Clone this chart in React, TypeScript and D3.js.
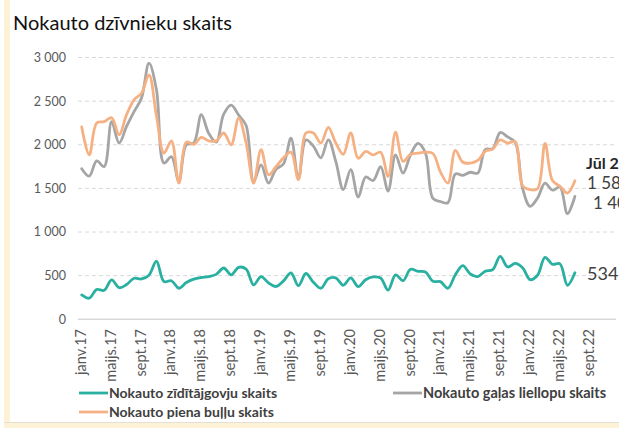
import React from "react";
import * as d3 from "d3";

const tickLabels = ["janv.17", "maijs.17", "sept.17", "janv.18", "maijs.18", "sept.18", "janv.19", "maijs.19", "sept.19", "janv.20", "maijs.20", "sept.20", "janv.21", "maijs.21", "sept.21", "janv.22", "maijs.22", "sept.22"];
const yTicks = [0, 500, 1000, 1500, 2000, 2500, 3000];

// monthly values, Jan 2017 .. Jul 2022
const zidītājgovis = [280, 242, 342, 332, 452, 362, 398, 470, 462, 505, 665, 433, 442, 356, 421, 460, 479, 490, 515, 588, 510, 596, 575, 395, 490, 418, 376, 440, 533, 385, 525, 425, 356, 465, 475, 390, 475, 375, 454, 485, 473, 335, 510, 442, 573, 550, 542, 435, 432, 356, 511, 614, 519, 490, 550, 569, 721, 600, 640, 590, 454, 505, 710, 630, 636, 390, 534];
const galasLiellopi = [1725, 1640, 1815, 1750, 2265, 2020, 2210, 2380, 2535, 2935, 2630, 1790, 1865, 1580, 2000, 2020, 2345, 2130, 2030, 2350, 2455, 2340, 2220, 1580, 1770, 1560, 1720, 1780, 2075, 1615, 2055, 1985, 1850, 2055, 1810, 1485, 1715, 1400, 1630, 1590, 1750, 1470, 1885, 1675, 1885, 2015, 1905, 1385, 1350, 1335, 1665, 1650, 1685, 1675, 1945, 1955, 2140, 2090, 2030, 1500, 1295, 1390, 1560, 1480, 1515, 1210, 1409];
const pienaBulli = [2205, 1885, 2250, 2265, 2310, 2115, 2345, 2515, 2590, 2800, 2330, 1905, 2045, 1560, 2030, 2005, 2085, 2045, 2045, 2135, 2000, 2305, 2020, 1560, 1945, 1655, 1750, 1850, 1915, 1600, 2135, 2135, 2020, 2200, 2020, 1890, 2135, 1845, 1925, 1885, 1915, 1637, 2145, 1810, 1890, 1905, 1915, 1900, 1690, 1560, 1935, 1800, 1790, 1820, 1925, 1950, 2055, 2020, 2035, 1530, 1485, 1496, 2015, 1590, 1525, 1447, 1588];

const seriesNames = ["Nokauto zīdītājgovju skaits", "Nokauto gaļas liellopu skaits", "Nokauto piena buļļu skaits"];
const colors = ["#2AB0A0", "#A5A5A5", "#F5B183"];
const lastLabel = "Jūl 22";

export default function App() {
  const W = 619, H = 428;
  const x = d3.scaleLinear().domain([0, 72]).range([78, 616]);
  const y = d3.scaleLinear().domain([0, 3000]).range([319.3, 57.5]);
  const line = d3
    .line<number>()
    .x((_, i) => x(i + 0.5))
    .y((d) => y(d))
    .curve(d3.curveCatmullRom.alpha(0.5));
  const font = "Lato, 'Open Sans', sans-serif";
  const fmt = (v: number) => d3.format(",")(v).replace(/,/g, " ");
  const series = [galasLiellopi, pienaBulli, zidītājgovis];
  const seriesColors = [colors[1], colors[2], colors[0]];
  const n = zidītājgovis.length;
  return (
    <svg width={W} height={H} style={{ position: "absolute", left: 0, top: 0, background: "#fff" }} fontFamily={font}>
      <rect x={0} y={0} width={W} height={H} fill="#fff" />
      <rect x={4} y={0} width={6} height={H} fill="#FDF1D6" />
      <rect x={4} y={423} width={W} height={5} fill="#FDF1D6" />
      <line x1={4} x2={W} y1={422.5} y2={422.5} stroke="#E4E0D6" />
      <text x={13} y={30} fontSize={20} fill="#111">Nokauto dzīvnieku skaits</text>
      {yTicks.map((t) => (
        <g key={t}>
          {t > 0 ? (
            <line x1={78} x2={616} y1={y(t)} y2={y(t)} stroke="#D9D9D9" strokeWidth={1} strokeDasharray="4,3" />
          ) : (
            <line x1={78} x2={616} y1={y(t)} y2={y(t)} stroke="#D9D9D9" strokeWidth={1.5} />
          )}
          <text x={66} y={y(t)} dy="0.35em" textAnchor="end" fontSize={12.5} fill="#595959">
            {fmt(t)}
          </text>
        </g>
      ))}
      {tickLabels.map((lab, i) => {
        const px = x(i * 4 + 0.5) - 1;
        return (
          <text key={lab} transform={`translate(${px},329) rotate(-90)`} textAnchor="end" dy="0.35em" fontSize={14.5} fill="#595959">
            {lab}
          </text>
        );
      })}
      {series.map((s, i) => (
        <path key={i} d={line(s) || ""} fill="none" stroke={seriesColors[i]} strokeWidth={2.8} strokeLinejoin="round" strokeLinecap="round" />
      ))}
      <text x={586} y={169} fontSize={16} fontWeight="bold" fill="#262626">{lastLabel}</text>
      <text x={587} y={189} fontSize={17} fill="#404040">{fmt(pienaBulli[n - 1])}</text>
      <text x={593} y={209} fontSize={17} fill="#404040">{fmt(galasLiellopi[n - 1])}</text>
      <text x={587} y={280} fontSize={18} fill="#404040">{fmt(zidītājgovis[n - 1])}</text>
      {/* legend */}
      <line x1={79} x2={108} y1={393} y2={393} stroke={colors[0]} strokeWidth={2.8} />
      <text x={109} y={393} dy="0.35em" fontSize={14} fontWeight="bold" fill="#404040">{seriesNames[0]}</text>
      <line x1={393} x2={422} y1={393} y2={393} stroke={colors[1]} strokeWidth={2.8} />
      <text x={423} y={393} dy="0.35em" fontSize={14.5} fontWeight="bold" fill="#404040">{seriesNames[1]}</text>
      <line x1={79} x2={108} y1={412} y2={412} stroke={colors[2]} strokeWidth={2.8} />
      <text x={109} y={412} dy="0.35em" fontSize={14} fontWeight="bold" fill="#404040">{seriesNames[2]}</text>
    </svg>
  );
}
